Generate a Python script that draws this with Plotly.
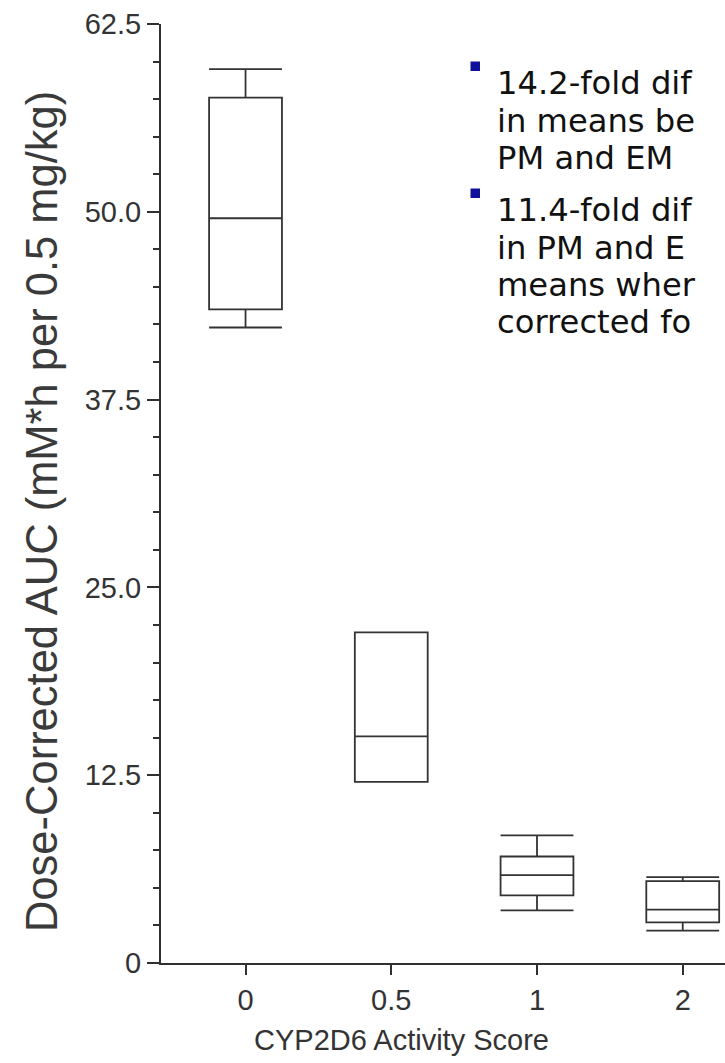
import plotly.graph_objects as go

# CYP2D6 activity score groups and dose-corrected AUC box statistics
activity_scores = ["0", "0.5", "1", "2"]
auc_min = [42.3, 12.06, 3.5, 2.15]
auc_q1 = [43.5, 12.06, 4.5, 2.71]
auc_median = [49.57, 15.08, 5.85, 3.55]
auc_q3 = [57.6, 22.0, 7.09, 5.45]
auc_max = [59.5, 22.0, 8.49, 5.72]

y_tick_values = [0, 12.5, 25.0, 37.5, 50.0, 62.5]
y_tick_labels = ["0", "12.5", "25.0", "37.5", "50.0", "62.5"]

# Bulleted notes, as far as they run before the right edge of the slide
bullet_notes = [
    ["14.2-fold dif", "in means be", "PM and EM"],
    ["11.4-fold dif", "in PM and E", "means wher", "corrected fo"],
]

W, H = 725, 1063
ML, MR, MT, MB = 161, 0, 24, 100
PW, PH = W - ML - MR, H - MT - MB


def px(xp):
    return (xp - ML) / PW


def py(yp):
    return (H - MB - yp) / PH


AXIS = "#303030"
FONT = "Liberation Sans, Arial, sans-serif"
NOTE_FONT = "DejaVu Sans, Verdana, sans-serif"

fig = go.Figure()
fig.add_trace(go.Box(
    x=activity_scores,
    q1=auc_q1,
    median=auc_median,
    q3=auc_q3,
    lowerfence=auc_min,
    upperfence=auc_max,
    width=0.5,
    whiskerwidth=1,
    boxpoints=False,
    line=dict(color="#333333", width=1.8),
    fillcolor="rgba(255,255,255,0)",
    showlegend=False,
    hoverinfo="skip",
))

minor_vals = [i * 2.5 for i in range(26) if (i * 2.5) not in y_tick_values]

fig.update_layout(
    width=W, height=H,
    margin=dict(l=ML, r=MR, t=MT, b=MB),
    paper_bgcolor="white", plot_bgcolor="white",
    font=dict(family=FONT, color="#333333"),
    xaxis=dict(
        type="category",
        categoryorder="array", categoryarray=activity_scores,
        range=[-0.58, 3.29],
        showline=True, linecolor=AXIS, linewidth=2.2,
        ticks="outside", ticklen=10, tickwidth=2, tickcolor=AXIS,
        tickfont=dict(size=29, color="#333333"),
        ticklabelstandoff=0,
        showgrid=False, zeroline=False,
    ),
    yaxis=dict(
        range=[0, 62.5],
        tickmode="array", tickvals=y_tick_values, ticktext=y_tick_labels,
        showline=True, linecolor=AXIS, linewidth=2.2,
        ticks="outside", ticklen=12, tickwidth=2, tickcolor=AXIS,
        tickfont=dict(size=29, color="#333333"),
        ticklabelstandoff=0,
        minor=dict(tickmode="array", tickvals=minor_vals, ticks="outside",
                   ticklen=6, tickwidth=2, tickcolor=AXIS, showgrid=False),
        showgrid=False, zeroline=False,
    ),
)

# Axis titles
fig.add_annotation(
    text="CYP2D6 Activity Score", xref="paper", yref="paper",
    x=px(401), y=py(1040), xanchor="center", yanchor="middle",
    showarrow=False, font=dict(size=29, color="#333333", family=FONT),
)
fig.add_annotation(
    text="Dose-Corrected AUC (mM*h per 0.5 mg/kg)", xref="paper", yref="paper",
    x=px(42), y=py(512), xanchor="center", yanchor="middle", textangle=-90,
    showarrow=False, font=dict(size=43.5, color="#3a3a3a", family=FONT),
)

# Bulleted notes
bullet_tops = [66, 193]
line_gap = 37.5
for notes, top in zip(bullet_notes, bullet_tops):
    fig.add_shape(
        type="rect", xref="paper", yref="paper",
        x0=px(470.5), x1=px(480), y0=py(top - 4.5), y1=py(top + 5),
        fillcolor="#10109a", line=dict(width=0),
    )
    for i, line in enumerate(notes):
        fig.add_annotation(
            text=line, xref="paper", yref="paper",
            x=px(495), y=py(top + 17 + i * line_gap),
            xanchor="left", yanchor="middle", showarrow=False,
            font=dict(size=32.2, color="#111111", family=NOTE_FONT),
        )

fig.write_html("out.html")
